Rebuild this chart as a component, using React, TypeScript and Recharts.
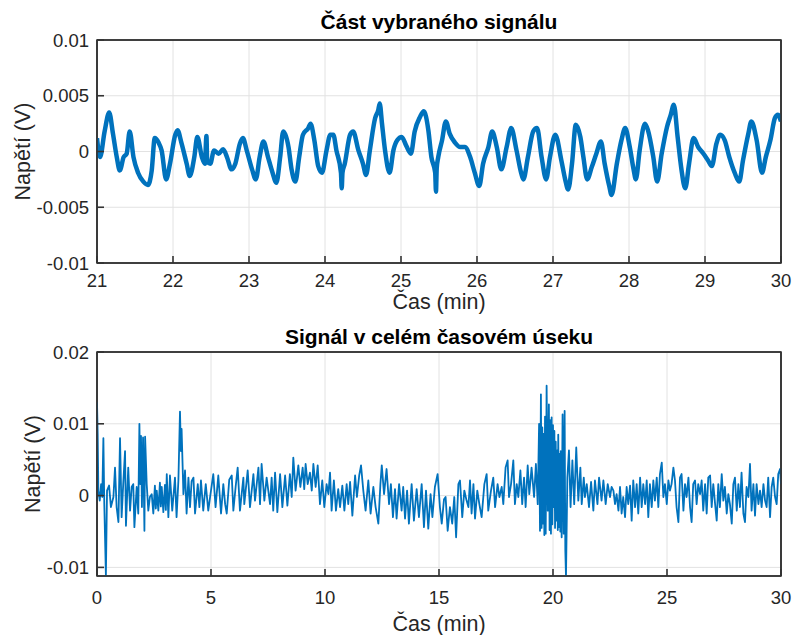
import React from 'react';
import { LineChart, Line, XAxis, YAxis, CartesianGrid, Label, ReferenceArea } from 'recharts';

// horní graf: výřez 21–30 min
const zoomTime = [
  21.0, 21.04, 21.1, 21.16, 21.21, 21.26, 21.3, 21.35, 21.39, 21.43, 21.48, 21.54, 21.61, 21.67, 21.72, 21.76,
  21.81, 21.85, 21.91, 21.96, 22.03, 22.06, 22.11, 22.18, 22.22, 22.28, 22.32, 22.38, 22.42, 22.44, 22.45, 22.49,
  22.54, 22.6, 22.66, 22.71, 22.77, 22.82, 22.88, 22.92, 22.97, 23.04, 23.09, 23.14, 23.19, 23.25, 23.31, 23.36,
  23.41, 23.45, 23.52, 23.56, 23.61, 23.66, 23.71, 23.78, 23.81, 23.86, 23.91, 23.96, 24.02, 24.07, 24.11, 24.15,
  24.21, 24.22, 24.23, 24.26, 24.33, 24.37, 24.44, 24.5, 24.54, 24.59, 24.66, 24.7, 24.72, 24.75, 24.79, 24.85,
  24.9, 24.95, 25.01, 25.07, 25.13, 25.18, 25.25, 25.3, 25.36, 25.4, 25.45, 25.46, 25.47, 25.49, 25.54, 25.59,
  25.64, 25.71, 25.78, 25.84, 25.91, 25.97, 26.03, 26.08, 26.15, 26.2, 26.26, 26.32, 26.39, 26.45, 26.52, 26.58,
  26.61, 26.67, 26.74, 26.79, 26.85, 26.91, 26.96, 27.03, 27.11, 27.16, 27.2, 27.25, 27.3, 27.36, 27.4, 27.45,
  27.51, 27.57, 27.63, 27.68, 27.74, 27.77, 27.84, 27.9, 27.95, 28.01, 28.06, 28.09, 28.14, 28.21, 28.25, 28.32,
  28.37, 28.43, 28.5, 28.55, 28.59, 28.64, 28.69, 28.74, 28.79, 28.85, 28.91, 28.98, 29.04, 29.09, 29.15, 29.2,
  29.26, 29.32, 29.39, 29.45, 29.5, 29.57, 29.61, 29.68, 29.75, 29.8, 29.86, 29.92, 29.96, 30.0,
];
const zoomVolt = [
  0.0012, -0.0005, 0.0018, 0.0035, 0.0016, -0.0005, -0.0017, -0.0005, -0.0002, 0.0018, -0.0005, -0.0019, -0.0027, -0.003, -0.0017, 0.0012,
  0.0008, 0.0001, -0.0025, -0.0011, 0.0015, 0.0019, 0.0008, -0.0011, -0.0022, -0.0005, 0.0013, -0.0005, -0.0011, 0.0014, -0.0009, -0.0011,
  0.0001, -0.0002, 0.0002, -0.0005, -0.0016, -0.0011, 0.0007, 0.0012, 0.0001, -0.0016, -0.0025, -0.0005, 0.0009, -0.0005, -0.0019, -0.0028,
  -0.0005, 0.0018, 0.0004, -0.0016, -0.0027, -0.0005, 0.0015, 0.0021, 0.0025, 0.001, -0.0013, -0.0019, 0.0001, 0.0015, 0.0015, 0.0001,
  -0.0019, -0.0033, -0.0019, -0.0011, 0.0015, 0.0018, 0.0001, -0.0011, -0.0021, 0.0001, 0.003, 0.0037, 0.0043, 0.0025, 0.0001, -0.0019,
  0.0001, 0.001, 0.0013, 0.0005, -0.0002, 0.0018, 0.0031, 0.0036, 0.0019, -0.0005, -0.0019, -0.0036, -0.0015, -0.0005, 0.001, 0.0027,
  0.0016, 0.0008, 0.0004, 0.0004, -0.0005, -0.0019, -0.0031, -0.0011, 0.0004, 0.0018, 0.0004, -0.0016, 0.0004, 0.0021, 0.0001, -0.0019,
  -0.0025, -0.0005, 0.0018, 0.0021, -0.0005, -0.0025, -0.0005, 0.0015, -0.0008, -0.0025, -0.0034, -0.0011, 0.0024, 0.0013, -0.0005, -0.0025,
  -0.0014, -0.0002, 0.0009, -0.0011, -0.0031, -0.0039, -0.0011, 0.001, 0.0021, 0.0004, -0.0016, -0.0025, 0.0001, 0.0025, 0.0019, -0.0005,
  -0.0027, -0.0002, 0.0022, 0.0033, 0.0042, 0.0013, -0.0016, -0.0033, -0.0011, 0.0012, 0.0004, -0.0002, -0.0008, -0.0013, 0.0007, 0.0015,
  0.001, -0.0005, -0.0019, -0.0027, -0.0008, 0.0016, 0.0027, 0.001, -0.0019, -0.0005, 0.001, 0.003, 0.0033, 0.0027,
];

// dolní graf: celý záznam 0–30 min
const fullTime = [
  0.0, 0.03, 0.06, 0.12, 0.18, 0.23, 0.28, 0.32, 0.39, 0.44, 0.53, 0.61, 0.72, 0.79, 0.86, 0.94,
  1.01, 1.08, 1.15, 1.23, 1.27, 1.37, 1.45, 1.52, 1.59, 1.64, 1.74, 1.81, 1.86, 1.9, 1.93, 1.97,
  2.02, 2.08, 2.11, 2.18, 2.25, 2.32, 2.4, 2.47, 2.54, 2.58, 2.62, 2.69, 2.76, 2.8, 2.84, 2.91,
  2.98, 3.02, 3.06, 3.13, 3.2, 3.3, 3.42, 3.49, 3.57, 3.64, 3.68, 3.71, 3.79, 3.86, 3.93, 4.01,
  4.08, 4.15, 4.23, 4.3, 4.42, 4.49, 4.56, 4.66, 4.77, 4.88, 4.96, 5.1, 5.2, 5.32, 5.44, 5.54,
  5.62, 5.69, 5.8, 5.91, 5.98, 6.08, 6.17, 6.27, 6.42, 6.46, 6.61, 6.71, 6.86, 6.93, 7.08, 7.15,
  7.22, 7.34, 7.44, 7.59, 7.66, 7.73, 7.81, 7.91, 8.03, 8.13, 8.25, 8.35, 8.46, 8.54, 8.61, 8.71,
  8.83, 8.92, 9.02, 9.09, 9.15, 9.24, 9.34, 9.42, 9.49, 9.59, 9.68, 9.78, 9.88, 9.97, 10.07, 10.15,
  10.22, 10.29, 10.39, 10.48, 10.58, 10.66, 10.76, 10.85, 10.95, 11.02, 11.1, 11.2, 11.32, 11.4, 11.5, 11.58,
  11.68, 11.78, 11.9, 12.0, 12.12, 12.22, 12.34, 12.43, 12.49, 12.59, 12.7, 12.81, 12.89, 12.98, 13.07, 13.14,
  13.25, 13.36, 13.43, 13.51, 13.6, 13.68, 13.8, 13.9, 14.02, 14.12, 14.24, 14.34, 14.43, 14.53, 14.63, 14.71,
  14.82, 14.94, 15.04, 15.12, 15.22, 15.29, 15.38, 15.48, 15.58, 15.67, 15.75, 15.85, 15.92, 16.02, 16.11, 16.21,
  16.29, 16.36, 16.43, 16.51, 16.58, 16.68, 16.77, 16.87, 16.99, 17.09, 17.16, 17.28, 17.38, 17.46, 17.57, 17.65,
  17.75, 17.82, 17.92, 18.01, 18.07, 18.16, 18.26, 18.33, 18.41, 18.48, 18.57, 18.65, 18.73, 18.8, 18.89, 18.96,
  19.06, 19.17, 19.25, 19.33, 19.39, 19.43, 19.47, 19.5, 19.53, 19.56, 19.59, 19.62, 19.65, 19.68, 19.72, 19.77,
  19.82, 19.85, 19.88, 19.91, 19.94, 19.97, 20.0, 20.03, 20.06, 20.09, 20.12, 20.15, 20.18, 20.21, 20.23, 20.26,
  20.29, 20.32, 20.34, 20.38, 20.42, 20.47, 20.51, 20.54, 20.57, 20.63, 20.7, 20.77, 20.85, 20.93, 21.02, 21.11,
  21.2, 21.26, 21.35, 21.4, 21.48, 21.58, 21.67, 21.77, 21.84, 21.95, 22.02, 22.13, 22.21, 22.31, 22.4, 22.5,
  22.57, 22.65, 22.72, 22.79, 22.87, 22.94, 23.01, 23.08, 23.16, 23.23, 23.3, 23.38, 23.45, 23.52, 23.6, 23.67,
  23.74, 23.82, 23.89, 23.96, 24.04, 24.11, 24.18, 24.25, 24.33, 24.4, 24.47, 24.55, 24.62, 24.69, 24.77, 24.84,
  24.91, 24.99, 25.06, 25.13, 25.2, 25.28, 25.35, 25.42, 25.5, 25.57, 25.64, 25.72, 25.79, 25.86, 25.94, 26.01,
  26.08, 26.15, 26.23, 26.3, 26.37, 26.45, 26.52, 26.59, 26.67, 26.74, 26.81, 26.89, 26.96, 27.03, 27.11, 27.18,
  27.25, 27.32, 27.4, 27.47, 27.54, 27.62, 27.69, 27.76, 27.84, 27.91, 27.98, 28.06, 28.13, 28.2, 28.27, 28.35,
  28.42, 28.49, 28.57, 28.64, 28.71, 28.79, 28.86, 28.93, 29.01, 29.08, 29.15, 29.23, 29.3, 29.37, 29.44, 29.52,
  29.59, 29.66, 29.74, 29.81, 29.88, 29.96, 30.0,
];
const fullVolt = [
  0.013, 0.0086, 0.0007, -0.0007, 0.0016, -0.0002, 0.008, -0.0012, -0.0111, 0.0007, 0.0014, -0.0016, -0.0002, 0.0039, -0.0016, -0.0037,
  0.008, -0.003, 0.0016, 0.0062, -0.0042, 0.0039, -0.0021, 0.0012, 0.0016, -0.0044, 0.0012, -0.0025, 0.01, 0.0016, 0.0083, -0.0016,
  0.0081, -0.0049, 0.0082, 0.0016, -0.0021, -0.0002, 0.0002, -0.0025, 0.0014, -0.0018, 0.0007, -0.0021, 0.0018, -0.0015, 0.0012, -0.0023,
  0.0015, -0.002, 0.003, -0.003, 0.0028, -0.0021, 0.0025, -0.003, 0.0021, 0.0117, 0.0062, 0.0093, 0.0002, 0.0035, -0.0025, 0.0025,
  -0.0016, 0.002, 0.0025, -0.0025, 0.0016, -0.0016, 0.0021, -0.0021, 0.0016, -0.0021, -0.0002, 0.003, -0.0016, 0.0028, -0.0025, 0.0016,
  -0.0012, -0.0025, 0.0022, 0.0028, -0.0021, 0.0012, 0.0039, -0.0021, 0.0025, -0.0012, 0.0035, -0.0016, 0.003, -0.0007, 0.0039, -0.0012,
  0.0044, -0.0007, 0.0025, -0.0012, 0.0025, -0.0021, 0.0032, -0.0023, 0.003, -0.0016, 0.0028, -0.0014, 0.003, -0.0002, 0.0053, 0.0007,
  0.0042, 0.0012, 0.0039, 0.0009, 0.0044, 0.0016, 0.0032, 0.0007, 0.0044, 0.0012, 0.0042, -0.0012, 0.0021, -0.0016, 0.0016, 0.0002,
  0.0032, -0.0021, 0.0021, -0.0021, 0.0009, -0.0016, 0.0014, -0.0021, 0.0016, -0.0012, 0.0019, -0.0028, 0.0028, -0.0002, 0.0028, 0.0042,
  0.0007, -0.0021, 0.0021, -0.0025, 0.0012, -0.0016, -0.0039, 0.0016, 0.0042, 0.0002, 0.0037, -0.0012, 0.0016, -0.003, 0.0009, -0.0032,
  0.0016, -0.0021, 0.0012, -0.0032, 0.0007, -0.0039, 0.0016, -0.0035, 0.0009, -0.003, 0.0016, -0.0044, 0.0007, -0.0046, 0.0002, -0.003,
  0.0012, 0.003, -0.0016, -0.0039, -0.0005, -0.0002, -0.0049, -0.0016, -0.0039, -0.0002, -0.0058, 0.0016, 0.0021, -0.003, 0.0007, -0.0007,
  -0.0016, 0.0021, -0.0025, 0.0016, -0.0032, 0.0007, -0.0012, -0.003, 0.0016, 0.003, -0.0021, 0.0007, 0.0025, -0.0016, 0.0016, -0.0002,
  0.0012, -0.0012, 0.0039, 0.0049, -0.0002, 0.0016, 0.0049, -0.0012, 0.0016, -0.0002, 0.0035, -0.0012, 0.0025, -0.0016, 0.0042, 0.0002,
  0.0039, -0.0002, 0.0044, -0.0012, 0.01, -0.0049, 0.0141, -0.0045, 0.0095, -0.0039, 0.0086, -0.0055, 0.011, -0.0053, 0.0153, -0.0021,
  0.0127, -0.0048, 0.0105, -0.0053, 0.0109, -0.004, 0.0098, -0.0016, 0.009, -0.0045, 0.0075, -0.0035, 0.0063, -0.0048, 0.0085, -0.0044,
  0.0058, -0.005, 0.0062, -0.0058, 0.0113, -0.0053, 0.0118, -0.0076, -0.0113, 0.0025, 0.0063, -0.0016, 0.0049, -0.0012, 0.0067, -0.0007,
  0.0039, -0.0012, 0.0025, -0.0002, 0.0016, -0.0016, 0.0019, -0.0021, 0.0021, -0.0012, 0.0025, -0.0007, 0.0021, -0.0012, 0.0016, -0.0002,
  0.0012, 0.0007, -0.0012, 0.0002, -0.0021, 0.0012, -0.0025, -0.0002, -0.003, 0.0012, -0.0012, 0.0014, -0.0035, 0.0021, -0.0016, 0.0016,
  -0.0025, 0.0025, -0.0016, 0.0016, -0.0012, 0.0021, -0.003, 0.0016, -0.0016, 0.0021, -0.0007, 0.0025, -0.0016, 0.003, 0.0046, -0.0002,
  0.0016, -0.0012, 0.0021, 0.0007, 0.0016, 0.0039, 0.0021, -0.0016, -0.0037, 0.0025, 0.003, -0.0021, 0.0016, -0.0002, 0.0025, -0.0016,
  -0.0037, 0.0016, 0.0021, -0.0012, 0.0016, 0.0002, 0.0021, -0.0021, 0.0016, -0.0025, 0.0025, 0.0028, -0.0016, 0.0016, -0.0012, -0.0035,
  0.0016, -0.0016, 0.003, -0.0007, 0.0012, -0.0025, 0.0002, -0.0012, -0.0039, 0.0016, 0.0025, -0.0021, 0.0016, -0.0016, 0.0032, -0.0025,
  -0.0037, 0.0012, -0.0002, 0.0044, -0.0021, 0.0016, -0.0028, 0.0016, -0.0012, 0.0007, -0.0016, 0.0016, -0.0007, -0.0016, 0.0025, -0.003,
  0.0012, 0.0025, -0.0002, -0.0012, 0.003, 0.0037, 0.0016, 0.0025,
];

const zoomTicksX = [21, 22, 23, 24, 25, 26, 27, 28, 29, 30];
const zoomTicksY = [-0.01, -0.005, 0, 0.005, 0.01];
const fullTicksX = [0, 5, 10, 15, 20, 25, 30];
const fullTicksY = [-0.01, 0, 0.01, 0.02];

const zoomData = zoomTime.map((t, i) => ({ t, v: zoomVolt[i] }));
const fullData = fullTime.map((t, i) => ({ t, v: fullVolt[i] }));

const blue = '#0072BD';
const axisColor = '#262626';
const boxColor = '#333333';
const boxLine = { stroke: boxColor, strokeWidth: 1.6 };
const tickStyle = { fontSize: 18.5, fill: axisColor };
const labelStyle = { fontSize: 21.5, fill: axisColor };
const fmt = (v: number) => String(v);

type PanelProps = {
  data: { t: number; v: number }[];
  xDomain: [number, number];
  yDomain: [number, number];
  xTicks: number[];
  yTicks: number[];
  height: number;
  marginTop: number;
  marginBottom: number;
  tickMarginX: number;
  xLabelOffset: number;
  yLabelOffset: number;
  lineWidth: number;
  curve: 'linear' | 'monotone';
};

const Panel = (p: PanelProps) => {
  const gridX = p.xTicks.filter((v) => v > p.xDomain[0] && v < p.xDomain[1]);
  const gridY = p.yTicks.filter((v) => v > p.yDomain[0] && v < p.yDomain[1]);
  return (
    <LineChart
      width={794}
      height={p.height}
      data={p.data}
      margin={{ top: p.marginTop, right: 12, bottom: p.marginBottom, left: 5 }}
    >
      <CartesianGrid stroke="#e2e2e2" verticalValues={gridX} horizontalValues={gridY} />
      <XAxis
        dataKey="t"
        type="number"
        domain={p.xDomain}
        ticks={p.xTicks}
        allowDataOverflow
        height={50}
        tickSize={-7}
        tickMargin={p.tickMarginX}
        tick={tickStyle}
        axisLine={boxLine}
        tickLine={boxLine}
      >
        <Label value="Čas (min)" position="insideBottom" offset={p.xLabelOffset} style={labelStyle} />
      </XAxis>
      <XAxis
        xAxisId="top"
        dataKey="t"
        type="number"
        orientation="top"
        domain={p.xDomain}
        ticks={p.xTicks}
        allowDataOverflow
        height={1}
        tickSize={-7}
        tick={false}
        axisLine={boxLine}
        tickLine={boxLine}
      />
      <YAxis
        type="number"
        domain={p.yDomain}
        ticks={p.yTicks}
        allowDataOverflow
        width={92}
        tickSize={-7}
        tickMargin={15}
        tick={tickStyle}
        tickFormatter={fmt}
        axisLine={boxLine}
        tickLine={boxLine}
      >
        <Label
          value="Napětí (V)"
          angle={-90}
          position="insideLeft"
          offset={p.yLabelOffset}
          style={{ ...labelStyle, textAnchor: 'middle' }}
        />
      </YAxis>
      <YAxis
        yAxisId="right"
        orientation="right"
        type="number"
        domain={p.yDomain}
        ticks={p.yTicks}
        allowDataOverflow
        width={1}
        tickSize={-7}
        tick={false}
        axisLine={boxLine}
        tickLine={boxLine}
      />
      <Line
        type={p.curve}
        dataKey="v"
        stroke={blue}
        strokeWidth={p.lineWidth}
        strokeLinejoin="round"
        dot={false}
        isAnimationActive={false}
      />
      <ReferenceArea
        x1={p.xDomain[0]}
        x2={p.xDomain[1]}
        y1={p.yDomain[0]}
        y2={p.yDomain[1]}
        fill="none"
        fillOpacity={0}
        stroke={boxColor}
        strokeWidth={1.6}
        strokeOpacity={1}
        ifOverflow="visible"
      />
    </LineChart>
  );
};

const titleStyle: React.CSSProperties = {
  position: 'absolute',
  left: 97,
  width: 684,
  textAlign: 'center',
  fontSize: 21,
  fontWeight: 'bold',
  lineHeight: '24px',
  color: '#000',
};

export default function App() {
  return (
    <div
      style={{
        position: 'absolute',
        left: 0,
        top: 0,
        width: 794,
        height: 635,
        background: '#fff',
        fontFamily: '"Liberation Sans", Arial, sans-serif',
      }}
    >
      <div style={{ position: 'absolute', left: 0, top: 0 }}>
        <Panel
          data={zoomData}
          xDomain={[21, 30]}
          yDomain={[-0.01, 0.01]}
          xTicks={zoomTicksX}
          yTicks={zoomTicksY}
          height={320}
          marginTop={39}
          marginBottom={7}
          tickMarginX={18}
          xLabelOffset={4}
          yLabelOffset={17}
          lineWidth={4.5}
          curve="monotone"
        />
      </div>
      <div style={{ position: 'absolute', left: 0, top: 320 }}>
        <Panel
          data={fullData}
          xDomain={[0, 30]}
          yDomain={[-0.0112, 0.02]}
          xTicks={fullTicksX}
          yTicks={fullTicksY}
          height={315}
          marginTop={31}
          marginBottom={9}
          tickMarginX={22}
          xLabelOffset={-5}
          yLabelOffset={27}
          lineWidth={1.8}
          curve="linear"
        />
      </div>
      <div style={{ ...titleStyle, top: 10 }}>Část vybraného signálu</div>
      <div style={{ ...titleStyle, top: 325 }}>Signál v celém časovém úseku</div>
    </div>
  );
}
